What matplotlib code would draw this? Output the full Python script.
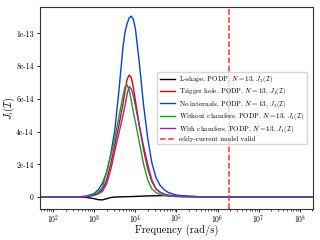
import numpy as np
import matplotlib
matplotlib.use('Agg')
import matplotlib.pyplot as plt
from matplotlib.ticker import FixedLocator, FixedFormatter

plt.rcParams['font.family'] = 'serif'
plt.rcParams['font.serif'] = ['cmr10', 'DejaVu Serif']
plt.rcParams['mathtext.fontset'] = 'cm'
plt.rcParams['axes.formatter.use_mathtext'] = True
plt.rcParams['axes.unicode_minus'] = False

# log10 of angular frequency (rad/s)
log_omega = [1.68, 2.0, 2.5, 2.8, 3.0, 3.1, 3.2, 3.3, 3.4, 3.5, 3.6, 3.7, 3.75, 3.8, 3.85,
             3.9, 3.95, 4.0, 4.1, 4.2, 4.3, 4.4, 4.5, 4.6, 4.7, 4.8, 5.0, 5.3, 5.6, 6.0,
             7.0, 8.32]

# J values, in units of 1e-14
l_shape = [0, 0, 0, -0.02, -0.1, -0.16, -0.17, -0.1, -0.03, 0.0, 0.01, 0.02, 0.02, 0.025, 0.03,
           0.03, 0.035, 0.04, 0.05, 0.06, 0.07, 0.075, 0.08, 0.085, 0.09, 0.09, 0.08, 0.05, 0.02, 0.01,
           0, 0]
trigger_hole = [0, 0, 0.005, 0.03, 0.12, 0.25, 0.45, 1.05, 2.0, 3.2, 4.4, 5.7, 6.5, 7.2, 7.45,
                7.3, 6.7, 5.9, 4.3, 2.9, 1.75, 0.95, 0.5, 0.3, 0.18, 0.11, 0.05, 0.02, 0.008, 0.003,
                0, 0]
no_internals = [0, 0, 0.01, 0.05, 0.22, 0.45, 0.85, 1.5, 2.6, 4.1, 6.5, 9.2, 10.1, 10.6, 10.95,
                11.05, 10.85, 10.3, 8.1, 5.6, 3.6, 2.1, 1.2, 0.72, 0.45, 0.28, 0.12, 0.04, 0.015, 0.005,
                0, 0]
without_chamfers = [0, 0, 0.005, 0.04, 0.15, 0.3, 0.6, 1.55, 2.5, 3.6, 4.9, 6.2, 6.75, 6.85, 6.5,
                    5.9, 5.2, 4.6, 3.3, 2.0, 1.05, 0.5, 0.28, 0.16, 0.1, 0.06, 0.03, 0.01, 0.005, 0,
                    0, 0]
with_chamfers = [0, 0, 0.004, 0.025, 0.1, 0.2, 0.35, 0.8, 1.65, 2.8, 3.9, 5.0, 5.6, 6.3, 6.75,
                 6.6, 6.2, 5.6, 4.3, 3.1, 2.0, 1.05, 0.5, 0.3, 0.18, 0.11, 0.05, 0.02, 0.008, 0.003,
                 0, 0]

model_limit = 1.9e6

labels = [r'L-shape, PODP, $N=13$, $J_2(\mathcal{I})$',
          r'Trigger hole, PODP, $N=13$, $J_1(\mathcal{I})$',
          r'No internals, PODP, $N=13$, $J_3(\mathcal{I})$',
          r'Without chamfers, PODP, $N=13$, $J_1(\mathcal{I})$',
          r'With chamfers, PODP, $N=13$, $J_1(\mathcal{I})$']
colors = ['black', '#e50000', '#0343df', '#1ea01e', '#8a2fb0']

omega = 10 ** np.array(log_omega)
series = [l_shape, trigger_hole, no_internals, without_chamfers, with_chamfers]

fig = plt.figure(figsize=(3.2, 2.4), dpi=100)
ax = fig.add_axes([0.125, 0.129, 0.853, 0.842])

for vals, c, lab in zip(series, colors, labels):
    ax.plot(omega, np.array(vals) * 1e-14, color=c, lw=1.0, label=lab)
ax.axvline(model_limit, color='#ff3030', ls='--', lw=1.1,
           label='eddy-current model valid')

ax.set_xscale('log')
ax.set_xticks([1e2, 1e3, 1e4, 1e5, 1e6, 1e7, 1e8])
ax.set_xlim(omega[0], omega[-1])

yt = [0, 2e-14, 4e-14, 6e-14, 8e-14, 1e-13]
ax.yaxis.set_major_locator(FixedLocator(yt))
ax.yaxis.set_major_formatter(FixedFormatter(['0', '2e-14', '4e-14', '6e-14', '8e-14', '1e-13']))

ax.tick_params(labelsize=5.5, width=0.6, length=2.5, pad=2)
ax.tick_params(axis='x', pad=0.5)
ax.tick_params(which='minor', width=0.5, length=1.5)
ax.set_xlabel('Frequency (rad/s)', fontsize=7.5)
ax.xaxis.set_label_coords(0.5, -0.078)
ax.set_ylabel(r'$J_i(\mathcal{I})$', fontsize=7.5)
ax.yaxis.set_label_coords(-0.085, 0.5)

for s in ax.spines.values():
    s.set_linewidth(0.8)
    s.set_color('#333333')

ax.legend(loc='center right', fontsize=5.0, handlelength=2.2, labelspacing=0.2,
          borderpad=0.35, handletextpad=0.6, framealpha=0.8, bbox_to_anchor=(0.99, 0.5))

fig.savefig('out.png', dpi=100)
